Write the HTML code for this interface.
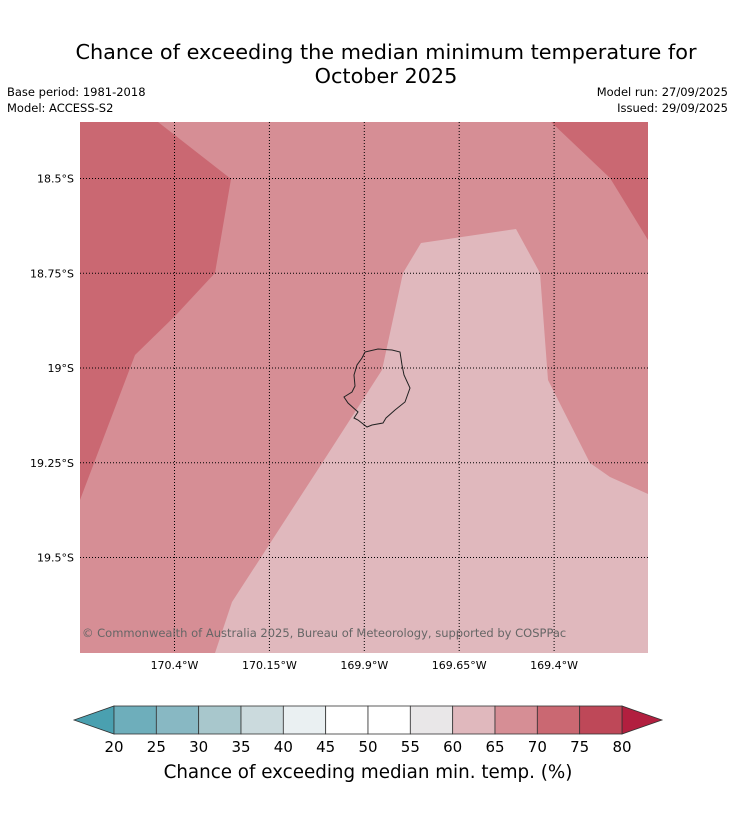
<!DOCTYPE html>
<html><head><meta charset="utf-8"><style>
body{margin:0;background:#fff;font-family:"DejaVu Sans","Liberation Sans",sans-serif}
</style></head><body>
<svg id="chart" width="736" height="816" xmlns="http://www.w3.org/2000/svg" font-family="DejaVu Sans, Liberation Sans, sans-serif">
<rect width="736" height="816" fill="#fff"/>
<text x="386" y="59" font-size="20.8" text-anchor="middle">Chance of exceeding the median minimum temperature for</text>
<text x="386" y="83" font-size="20.8" text-anchor="middle">October 2025</text>
<text x="7" y="96" font-size="11.5">Base period: 1981-2018</text>
<text x="7" y="112" font-size="11.5">Model: ACCESS-S2</text>
<text x="728" y="96" font-size="11.5" text-anchor="end">Model run: 27/09/2025</text>
<text x="728" y="112" font-size="11.5" text-anchor="end">Issued: 29/09/2025</text>
<g>
<rect x="80" y="122" width="568" height="531" fill="#d68e95"/>
<polygon fill="#ca6872" points="80,122 158,122 231,179 215,273 175,316 135,355 80,500"/>
<polygon fill="#ca6872" points="551,122 648,122 648,240 610,178"/>
<polygon fill="#e0b8bd" points="215,653 232,602 326,457 382,370 403,273 421,243 516,229 540,273 548,380 590,463 610,477 648,494 648,653"/>
<polygon fill="none" stroke="#222" stroke-width="1" points="365,352 378,349 392,350 400,352 402,365 404,375 410,388 405,402 395,410 386,418 383,423 372,425 367,427 358,420 354,418 358,412 348,403 344,397 352,392 355,386 354,375 357,365 362,358"/>
<g id="grid" stroke="#000" stroke-width="1" stroke-dasharray="1,2"></g>
<text x="82" y="637" font-size="11.5" fill="#666">© Commonwealth of Australia 2025, Bureau of Meteorology, supported by COSPPac</text>
</g>
<g id="labels" font-size="11"></g>
<g id="cbar"></g>
<text x="368" y="778" font-size="18.3" text-anchor="middle">Chance of exceeding median min. temp. (%)</text>
</svg>
<script>
const lonLabels=["170.4°W","170.15°W","169.9°W","169.65°W","169.4°W"];
const lonValues=[-170.4,-170.15,-169.9,-169.65,-169.4];
const latLabels=["18.5°S","18.75°S","19°S","19.25°S","19.5°S"];
const latValues=[-18.5,-18.75,-19,-19.25,-19.5];
const levels=[20,25,30,35,40,45,50,55,60,65,70,75,80];
const levelColors=["#6eaebb","#88b8c3","#a8c7cc","#cbdadd","#eaf0f2","#ffffff","#ffffff","#e9e7e8","#e0b8bd","#d68e95","#ca6872","#be4858"];
const ns="http://www.w3.org/2000/svg";
function xLon(v){return 174.5+(v+170.4)/0.25*94.9;}
function yLat(v){return 178.5+(-18.5-v)/0.25*94.75;}
function mk(t,a,p,txt){const e=document.createElementNS(ns,t);for(const k in a)e.setAttribute(k,a[k]);if(txt!==undefined)e.textContent=txt;p.appendChild(e);return e;}
const grid=document.getElementById('grid'),labels=document.getElementById('labels'),cbar=document.getElementById('cbar');
lonValues.forEach((v,i)=>{const x=xLon(v);
const l=mk('line',{x1:x,x2:x,y1:122,y2:653},grid);


const t=mk('text',{x:x,y:669,'text-anchor':'middle'},labels,lonLabels[i]);

});
latValues.forEach((v,i)=>{const y=yLat(v);
const l=mk('line',{x1:80,x2:648,y1:y,y2:y},grid);


const t=mk('text',{x:74,y:y+4,'text-anchor':'end'},labels,latLabels[i]);

});
const x0=114,x1=622,cy=706,ch=28;
function xc(v){return x0+(v-levels[0])/(levels[levels.length-1]-levels[0])*(x1-x0);}
const la=mk('polygon',{points:`74,720 ${x0},${cy} ${x0},${cy+ch}`,fill:'#4aa0b0',stroke:'#333','stroke-width':0.8},cbar);


const ra=mk('polygon',{points:`662,720 ${x1},${cy} ${x1},${cy+ch}`,fill:'#b21f3f',stroke:'#333','stroke-width':0.8},cbar);


levelColors.forEach((c,i)=>{const r=mk('rect',{x:xc(levels[i]),y:cy,width:xc(levels[i+1])-xc(levels[i]),height:ch,fill:c,stroke:'#333','stroke-width':0.8},cbar);

});
levels.forEach(v=>{const t=mk('text',{x:xc(v),y:752,'text-anchor':'middle','font-size':15},cbar,String(v));

});
</script>
</body></html>
